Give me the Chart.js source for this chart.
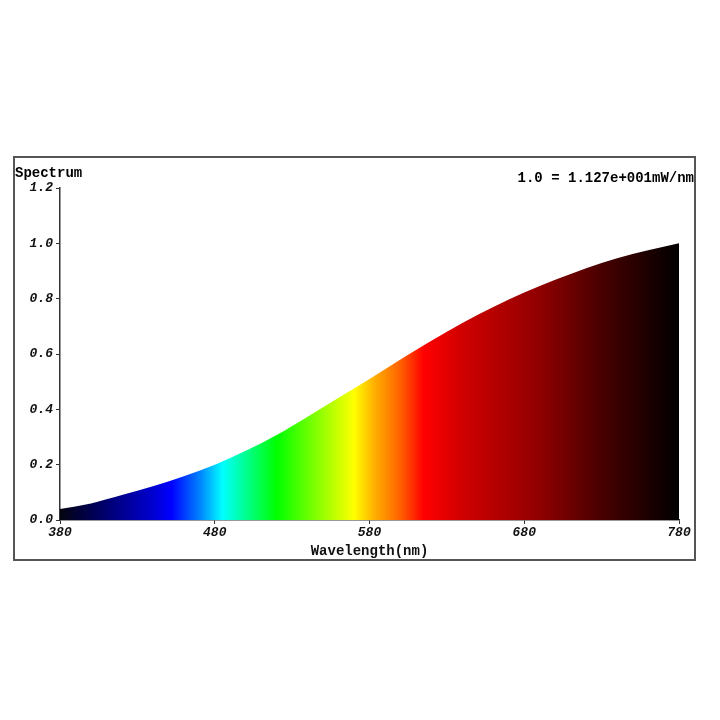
<!DOCTYPE html>
<html>
<head>
<meta charset="utf-8">
<script src="https://cdn.jsdelivr.net/npm/chart.js@4/dist/chart.umd.min.js"></script>
<style>
  html, body { margin: 0; padding: 0; background: #fff; }
  #wrap { position: relative; width: 720px; height: 720px; }
</style>
</head>
<body>
<div id="wrap"><canvas id="chart-spectrum" width="720" height="720"></canvas></div>
<script>
// Spectrum data (relative power vs wavelength)
const wavelengths = [380, 400, 420, 440, 460, 480, 500, 520, 540, 560, 580, 600, 620, 640, 660, 680, 700, 720, 740, 760, 780];
const power = [0.040, 0.060, 0.090, 0.122, 0.158, 0.200, 0.250, 0.307, 0.373, 0.442, 0.510, 0.580, 0.648, 0.712, 0.770, 0.822, 0.868, 0.910, 0.946, 0.975, 1.000];
const xTicks = [380, 480, 580, 680, 780];
const yTicks = [0, 0.2, 0.4, 0.6, 0.8, 1.0, 1.2];

// colour stops of the rainbow fill, by wavelength
const stopNm = [380, 395, 415, 440, 452, 470, 485, 500, 520, 545, 570, 583, 600, 615, 640, 690, 730, 780];
const stopColor = ['#050510', '#000040', '#000080', '#0000d0', '#0000ff', '#0080ff', '#00ffff', '#00ff90', '#00ff00',
    '#80ff00', '#ffff00', '#ffb000', '#ff6000', '#ff0000', '#d00000', '#900000', '#480000', '#000000'];

const fontFamily = '"Liberation Mono", "DejaVu Sans Mono", monospace';
const axisColor = '#333';

function spectrumFill(ctx) {
    const chart = ctx.chart;
    const area = chart.chartArea;
    if (!area) return '#000';
    const xs = chart.scales.x;
    const left = xs.getPixelForValue(stopNm[0]);
    const right = xs.getPixelForValue(stopNm[stopNm.length - 1]);
    const g = chart.ctx.createLinearGradient(left, 0, right, 0);
    stopNm.forEach((nm, i) => {
        g.addColorStop((xs.getPixelForValue(nm) - left) / (right - left), stopColor[i]);
    });
    return g;
}

// frame + labels that sit outside the axes
const framePlugin = {
    id: 'frame',
    afterDraw(chart) {
        const c = chart.ctx;
        c.save();
        c.strokeStyle = '#555';
        c.lineWidth = 2;
        c.strokeRect(14, 157, 681, 403);
        c.fillStyle = '#000';
        c.font = 'bold 14px ' + fontFamily;
        c.textBaseline = 'middle';
        c.textAlign = 'left';
        c.fillText('Spectrum', 15, 173);
        c.textAlign = 'right';
        c.fillText('1.0 = 1.127e+001mW/nm', 694, 178);
        c.restore();
    }
};

new Chart(document.getElementById('chart-spectrum').getContext('2d'), {
    type: 'line',
    data: {
        datasets: [{
            label: 'Spectrum',
            data: wavelengths.map((w, i) => ({ x: w, y: power[i] })),
            fill: 'origin',
            backgroundColor: spectrumFill,
            borderWidth: 0,
            borderColor: 'rgba(0,0,0,0)',
            pointRadius: 0,
            cubicInterpolationMode: 'monotone'
        }]
    },
    options: {
        responsive: false,
        animation: false,
        layout: { padding: { left: 14, top: 188, right: 41, bottom: 160 } },
        plugins: { legend: { display: false }, tooltip: { enabled: false } },
        scales: {
            x: {
                type: 'linear',
                min: 380,
                max: 780,
                afterFit: (s) => { s.height = 40; },
                afterBuildTicks: (s) => { s.ticks = xTicks.map(v => ({ value: v })); },
                grid: { drawOnChartArea: false, drawTicks: true, tickLength: 4, color: axisColor },
                border: { color: axisColor, width: 1.5 },
                ticks: { color: '#111', font: { family: fontFamily, size: 13, weight: 'bold', style: 'italic' }, padding: 1, maxRotation: 0 },
                title: { display: true, text: 'Wavelength(nm)', color: '#111', padding: { top: 0, bottom: 0 },
                    font: { family: fontFamily, size: 14, weight: 'bold' } }
            },
            y: {
                min: 0,
                max: 1.2,
                afterFit: (s) => { s.width = 46; },
                afterBuildTicks: (s) => { s.ticks = yTicks.map(v => ({ value: v })); },
                grid: { drawOnChartArea: false, drawTicks: true, tickLength: 4, color: axisColor },
                border: { color: axisColor, width: 1.5 },
                ticks: { color: '#111', font: { family: fontFamily, size: 13, weight: 'bold', style: 'italic' }, padding: 3,
                    callback: (v) => Number(v).toFixed(1) }
            }
        }
    },
    plugins: [framePlugin]
});
</script>
</body>
</html>
